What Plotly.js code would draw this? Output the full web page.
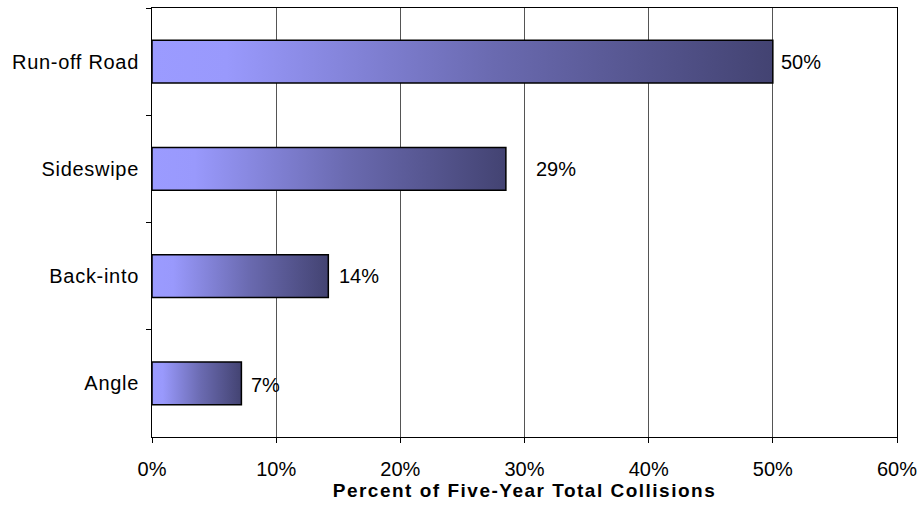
<!DOCTYPE html>
<html>
<head>
<meta charset="utf-8">
<script src="https://cdn.plot.ly/plotly-3.0.1.min.js"></script>
<style>
  html, body { margin: 0; padding: 0; background: #fff; }
  #chart { width: 919px; height: 519px; }
  .xtitle { letter-spacing: 1.5px; }
  .ytick text { letter-spacing: 0.7px; }
</style>
</head>
<body>
<div id="chart"></div>
<script>
// Data (top-to-bottom order as shown)
const categories = ["Run-off Road", "Sideswipe", "Back-into", "Angle"];
const percentValues = [50, 28.5, 14.2, 7.2];
const xTickValues = [0, 10, 20, 30, 40, 50, 60];
const xTickLabels = ["0%", "10%", "20%", "30%", "40%", "50%", "60%"];

// label styling offsets (px), not data
const labelXShift = [6, 28, 9, 8];
const labelYShift = [0, 0, 0, -2];

const FONT = "Liberation Sans, Arial, sans-serif";
const FS = 20;

const trace = {
  type: "bar",
  orientation: "h",
  x: percentValues,
  y: categories,
  width: 0.4,
  marker: { color: "#7777cc", line: { color: "#000", width: 1.5 } },
  hoverinfo: "none"
};

const annotations = percentValues.map((v, i) => ({
  x: v, y: categories[i], xref: "x", yref: "y",
  text: Math.round(v) + "%",
  showarrow: false, xanchor: "left", yanchor: "middle",
  xshift: labelXShift[i], yshift: labelYShift[i],
  font: { family: FONT, size: FS, color: "#000" }
}));

const layout = {
  width: 919, height: 519,
  margin: { l: 152, r: 22, t: 8, b: 82, pad: 0 },
  paper_bgcolor: "#fff", plot_bgcolor: "#fff",
  showlegend: false,
  font: { family: FONT, size: FS, color: "#000" },
  xaxis: {
    range: [0, 60],
    tickvals: xTickValues, ticktext: xTickLabels,
    showgrid: true, gridcolor: "#555", gridwidth: 1,
    showline: true, linecolor: "#000", linewidth: 1, mirror: true,
    ticks: "outside", ticklen: 5, tickcolor: "#000",
    ticklabelstandoff: 9,
    zeroline: false, fixedrange: true,
    tickfont: { family: FONT, size: FS, color: "#000" },
    title: { text: "<b>Percent of Five-Year Total Collisions</b>", font: { family: FONT, size: 19, color: "#000" }, standoff: 4 }
  },
  yaxis: {
    type: "category",
    autorange: "reversed",
    showgrid: false,
    showline: true, linecolor: "#000", linewidth: 1, mirror: true,
    ticks: "outside", ticklen: 5, tickcolor: "#000",
    tickson: "boundaries",
    ticklabelstandoff: 8,
    zeroline: false, fixedrange: true,
    tickfont: { family: FONT, size: FS, color: "#000" }
  },
  annotations: annotations
};

Plotly.newPlot("chart", [trace], layout, { staticPlot: true, displayModeBar: false }).then(gd => {
  const svg = gd.querySelector("svg.main-svg");
  const NS = "http://www.w3.org/2000/svg";
  let defs = svg.querySelector("defs");
  if (!defs) { defs = document.createElementNS(NS, "defs"); svg.insertBefore(defs, svg.firstChild); }
  const grad = document.createElementNS(NS, "linearGradient");
  grad.setAttribute("id", "barGrad");
  grad.setAttribute("x1", "0"); grad.setAttribute("y1", "0");
  grad.setAttribute("x2", "1"); grad.setAttribute("y2", "0");
  [["0", "#9b9bff"], ["0.12", "#9999fc"], ["0.55", "#6a6ab0"], ["1", "#434372"]].forEach(([o, c]) => {
    const s = document.createElementNS(NS, "stop");
    s.setAttribute("offset", o); s.setAttribute("stop-color", c);
    grad.appendChild(s);
  });
  defs.appendChild(grad);
  gd.querySelectorAll(".barlayer .point path").forEach(p => {
    p.style.fill = "url(#barGrad)";
  });
});
</script>
</body>
</html>
